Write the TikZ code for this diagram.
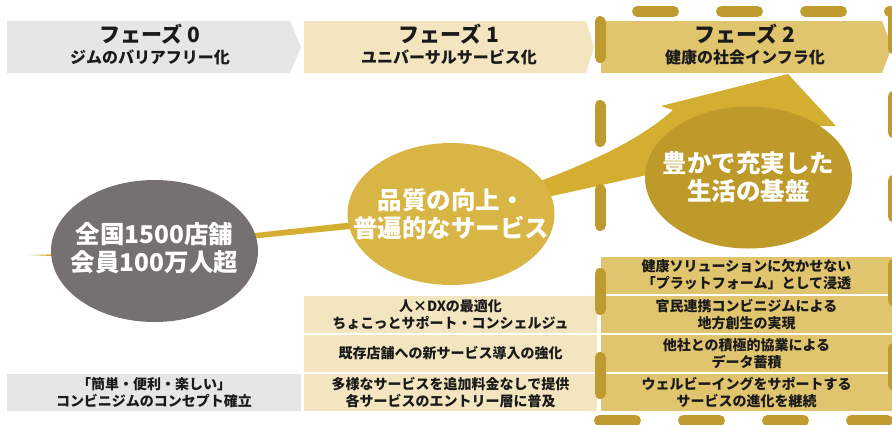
\documentclass[tikz,border=0pt]{standalone}
\usepackage{fontspec}
\setmainfont{Noto Sans CJK JP}
\usetikzlibrary{shapes.geometric}
\definecolor{gA}{HTML}{E7E6E6}
\definecolor{bA}{HTML}{F2E5BF}
\definecolor{cA}{HTML}{E0C56E}
\definecolor{grayC}{HTML}{767171}
\definecolor{goldC}{HTML}{D8B545}
\definecolor{arrowC}{HTML}{D4AE30}
\definecolor{darkC}{HTML}{BE9A2B}
\definecolor{frameC}{HTML}{BF9A2E}
\definecolor{txt}{HTML}{1A1A1A}
\tikzset{
 hdrtitle/.style={font=\bfseries\fontsize{21}{24}\selectfont, text=txt, inner sep=0pt},
 hdrsub/.style={font=\bfseries\fontsize{16}{18}\selectfont, text=txt, inner sep=0pt},
 cell/.style={minimum height=37pt, inner sep=0pt, align=center, font=\bfseries\fontsize{14}{17}\selectfont, text=txt},
 bubble/.style={ellipse, minimum width=207pt, minimum height=142pt, inner sep=0pt},
 bubbletext/.style={inner sep=0pt, align=center, text=white, font=\bfseries\fontsize{24.5}{28}\selectfont},
 framedash/.style={draw=frameC, line width=11pt, line cap=round, dash pattern=on 36pt off 48pt},
}
\begin{document}
\begin{tikzpicture}[x=1pt,y=-1pt]
\useasboundingbox (0,0) rectangle (892,424);
\begin{scope}
\clip (0,0) rectangle (892,424);
% headers
\fill[gA] (7,21) -- (290,21) -- (301,47) -- (290,73) -- (7,73) -- cycle;
\fill[bA] (304,21) -- (586,21) -- (594,47) -- (586,73) -- (304,73) -- cycle;
\fill[cA] (601,21) -- (882,21) -- (892,47) -- (882,73) -- (601,73) -- cycle;
\node[hdrtitle] (t0) at (150,34) {フェーズ 0};
\node[hdrsub] (s0) at (150,57) {ジムのバリアフリー化};
\node[hdrtitle] (t1) at (449,34) {フェーズ 1};
\node[hdrsub] (s1) at (449,57) {ユニバーサルサービス化};
\node[hdrtitle] (t2) at (745,34) {フェーズ 2};
\node[hdrsub] (s2) at (745,57) {健康の社会インフラ化};
% cells
\node[cell, fill=gA, minimum width=294pt] (p0a) at (154,392.5) {「簡単・便利・楽しい」\\コンビニジムのコンセプト確立};
\node[cell, fill=bA, minimum width=293pt] (p1a) at (450.5,314.5) {人×DXの最適化\\ちょこっとサポート・コンシェルジュ};
\node[cell, fill=bA, minimum width=293pt] (p1b) at (450.5,353.5) {既存店舗への新サービス導入の強化};
\node[cell, fill=bA, minimum width=293pt] (p1c) at (450.5,392.5) {多様なサービスを追加料金なしで提供\\各サービスのエントリー層に普及};
\node[cell, fill=cA, minimum width=291pt] (p2a) at (746.5,275) {健康ソリューションに欠かせない\\「プラットフォーム」として浸透};
\node[cell, fill=cA, minimum width=291pt] (p2b) at (746.5,314.5) {官民連携コンビニジムによる\\地方創生の実現};
\node[cell, fill=cA, minimum width=291pt] (p2c) at (746.5,353.5) {他社との積極的協業による\\データ蓄積};
\node[cell, fill=cA, minimum width=291pt] (p2d) at (746.5,392.5) {ウェルビーイングをサポートする\\サービスの進化を継続};
% growth arrow
\fill[arrowC] (28,255) -- (53,254.3) -- (255,233) -- (350,222.5)
  -- (543,180) .. controls (590,162) and (640,140) .. (673,110)
  -- (661,106) -- (788,74) -- (836,126) -- (812,126)
  .. controls (760,140) and (700,162) .. (647,175)
  -- (543,198) -- (350,229) -- (255,238.5) -- (53,256) -- cycle;
% bubbles
\node[bubble, fill=grayC] (c0) at (154.5,251) {};
\node[bubbletext] (c0t) at (154.5,248) {全国1500店舗\\会員100万人超};
\node[bubble, fill=goldC] (c1) at (451,214) {};
\node[bubbletext] (c1t) at (c1) {品質の向上・\\普遍的なサービス};
\node[bubble, fill=darkC] (c2) at (748.5,177.5) {};
\node[bubbletext] (c2t) at (c2) {豊かで充実した\\生活の基盤};
% dashed frame
\draw[framedash] (600,21.5) -- (600,430);
\draw[framedash] (637.5,11.5) -- (900,11.5);
\draw[framedash] (893,12.5) -- (893,430);
\draw[framedash] (599.5,420.5) -- (900,420.5);
\end{scope}
\end{tikzpicture}
\end{document}
